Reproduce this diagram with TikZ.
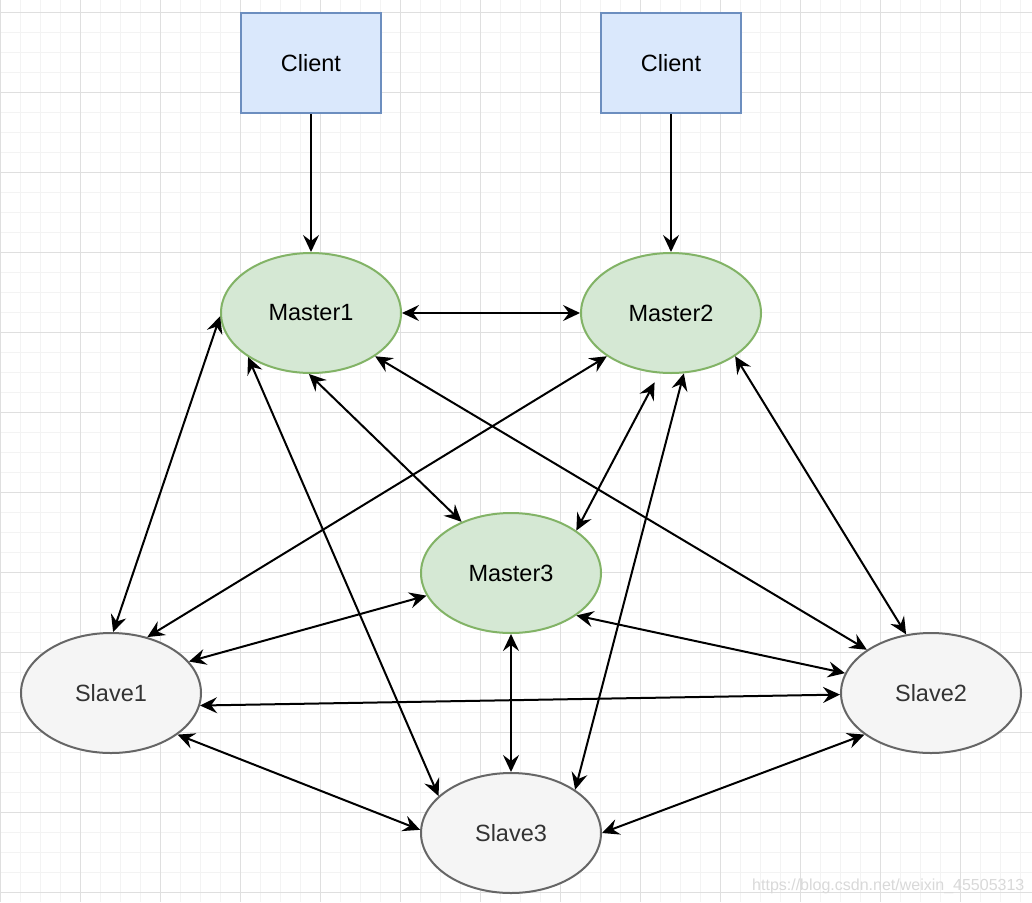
\documentclass[tikz,border=0pt]{standalone}
\usepackage{fontspec}
\setmainfont{Liberation Sans}
\usepackage{xcolor}
\usepackage{tikz}
\usetikzlibrary{shapes.geometric, arrows.meta}
\definecolor{clientblue}{HTML}{DAE8FC}
\definecolor{clientedge}{HTML}{6C8EBF}
\definecolor{mastergreen}{HTML}{D5E8D4}
\definecolor{masteredge}{HTML}{82B366}
\definecolor{slavegray}{HTML}{F5F5F5}
\definecolor{slaveedge}{HTML}{666666}
\definecolor{slavetext}{HTML}{333333}
\definecolor{gridminor}{HTML}{F3F3F3}
\definecolor{gridmajor}{HTML}{DFDFDF}
\definecolor{marktext}{HTML}{D9D9D9}

\begin{document}
\begin{tikzpicture}[x=1pt, y=-1pt,
        clientbox/.style={draw=clientedge, fill=clientblue, line width=2pt, minimum width=140pt, minimum height=100pt, inner sep=0pt, font=\fontsize{23.5}{28}\selectfont},
        masternode/.style={ellipse, draw=masteredge, fill=mastergreen, line width=2pt, minimum width=180pt, minimum height=120pt, inner sep=0pt, font=\fontsize{23.5}{28}\selectfont},
        slavenode/.style={ellipse, draw=slaveedge, fill=slavegray, text=slavetext, line width=2pt, minimum width=180pt, minimum height=120pt, inner sep=0pt, font=\fontsize{23.5}{28}\selectfont},
        feed/.style={line width=2pt, -{Stealth[length=17pt, width=16pt, inset=6pt]}},
        link/.style={line width=2pt, {Stealth[length=17pt, width=16pt, inset=6pt]}-{Stealth[length=17pt, width=16pt, inset=6pt]}}]
        \useasboundingbox (0,0) rectangle (1032,902);
        \fill[white] (0,0) rectangle (1032,902);
        \foreach \gx in {0,20,...,1020} \draw[gridminor, line width=1pt] (\gx,0) -- (\gx,902);
        \foreach \gy in {12,32,...,892} \draw[gridminor, line width=1pt] (0,\gy) -- (1032,\gy);
        \foreach \gx in {0,80,...,960} \draw[gridmajor, line width=1pt] (\gx,0) -- (\gx,902);
        \foreach \gy in {12,92,...,892} \draw[gridmajor, line width=1pt] (0,\gy) -- (1032,\gy);

        \node[clientbox] (client1) at (311,63) {Client};
        \node[clientbox] (client2) at (671,63) {Client};
        \node[masternode] (master1) at (311,313) {Master1};
        \node[masternode] (master2) at (671,313) {Master2};
        \node[masternode] (master3) at (511,573) {Master3};
        \node[slavenode] (slave1) at (111,693) {Slave1};
        \node[slavenode] (slave2) at (931,693) {Slave2};
        \node[slavenode] (slave3) at (511,833) {Slave3};

        \draw[feed] (client1.south) -- (master1.north);
        \draw[feed] (client2.south) -- (master2.north);
        \draw[link] (master1.east) -- (master2.west);
        \draw[link] (master1.182) -- (slave1.88);
        \draw[link] (master1.215) -- (slave3.153);
        \draw[link] (master1.268) -- (master3.134);
        \draw[link] (master1.326) -- (slave2.146);
        \draw[link] (master2.214) -- (slave1.57);
        \draw[link, shorten <=10pt] (master2.259) -- (master3.33);
        \draw[link] (master2.282) -- (slave3.34);
        \draw[link] (master2.326) -- (slave2.113);
        \draw[link] (master3.195) -- (slave1.22);
        \draw[link] (master3.327) -- (slave2.167);
        \draw[link] (master3.south) -- (slave3.north);
        \draw[link] (slave1.352) -- (slave2.181);
        \draw[link] (slave1.328) -- (slave3.178);
        \draw[link] (slave2.212) -- (slave3.east);

        \node[text=marktext, font=\fontsize{16}{18}\selectfont, anchor=base west, inner sep=0pt] (mark) at (752,890) {https://blog.csdn.net/weixin\_45505313};
    \end{tikzpicture}
\end{document}
